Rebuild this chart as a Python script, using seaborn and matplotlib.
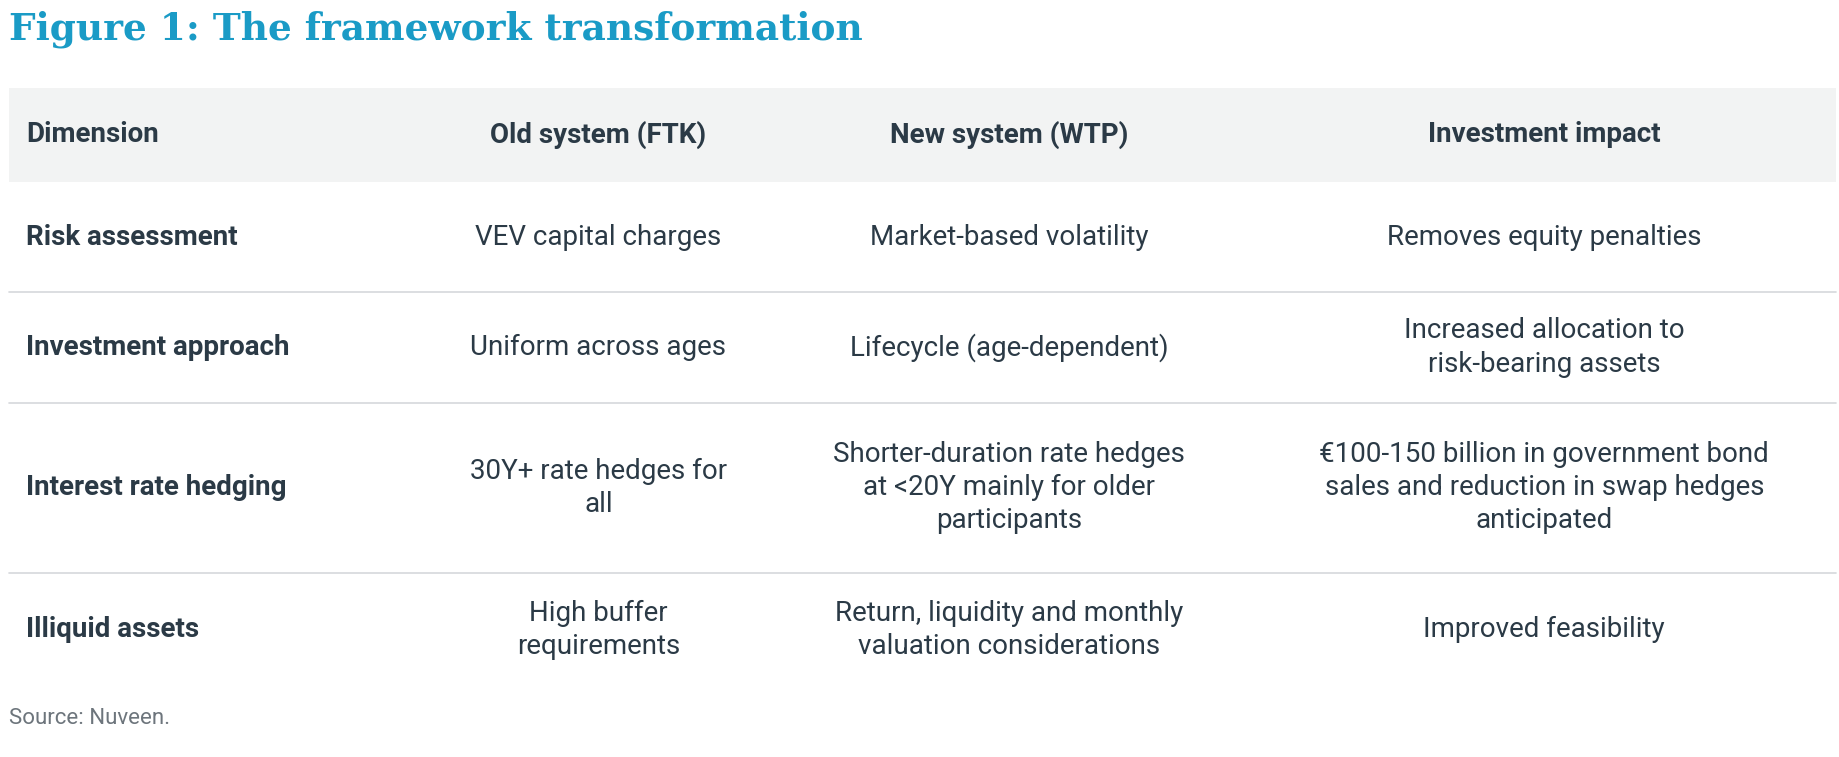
import matplotlib.pyplot as plt
import seaborn as sns

title = "Figure 1: The framework transformation"
columns = ["Dimension", "Old system (FTK)", "New system (WTP)", "Investment impact"]
dimension = ["Risk assessment", "Investment approach", "Interest rate hedging", "Illiquid assets"]
old_system = ["VEV capital charges", "Uniform across ages", "30Y+ rate hedges for\nall",
              "High buffer\nrequirements"]
new_system = ["Market-based volatility", "Lifecycle (age-dependent)",
              "Shorter-duration rate hedges\nat <20Y mainly for older\nparticipants",
              "Return, liquidity and monthly\nvaluation considerations"]
impact = ["Removes equity penalties", "Increased allocation to\nrisk-bearing assets",
          "€100-150 billion in government bond\nsales and reduction in swap hedges\nanticipated",
          "Improved feasibility"]
source = "Source: Nuveen."

sns.set_theme(style="white")
plt.rcParams['font.family'] = ['Liberation Sans Narrow', 'Roboto', 'DejaVu Sans']

ink = "#2b3a46"
fig = plt.figure(figsize=(18.4, 7.57), dpi=100)
ax = fig.add_axes([0, 0, 1, 1])
# layout in reference pixel units (1568 x 645)
ax.set_xlim(0, 1568)
ax.set_ylim(645, 0)
ax.axis("off")

ax.text(8, 25, title, fontsize=27, fontweight="bold", color="#1a9bc6",
        family=["DejaVu Serif"], va="center", ha="left")

row_edges = [75, 155, 249, 343, 488, 585]
ax.axhspan(row_edges[0], row_edges[1], xmin=8 / 1568, xmax=1565 / 1568, color="#f2f3f3", lw=0)
for y in row_edges[2:5]:
    ax.plot([8, 1565], [y, y], color="#d5d8db", lw=1.2)

col_x = [22, 510, 860, 1316]
col_ha = ["left", "center", "center", "center"]
hy = (row_edges[0] + row_edges[1]) / 2
for x, ha, name in zip(col_x, col_ha, columns):
    ax.text(x, hy, name, fontsize=20, fontweight="bold", color=ink, ha=ha, va="center")

for i, row in enumerate(zip(dimension, old_system, new_system, impact)):
    cy = (row_edges[i + 1] + row_edges[i + 2]) / 2
    for j, (x, ha, val) in enumerate(zip(col_x, col_ha, row)):
        ax.text(x, cy, val, fontsize=20, color=ink, ha=ha, va="center",
                fontweight="bold" if j == 0 else "normal", linespacing=1.3,
                multialignment="center")

ax.text(8, 612, source, fontsize=16, color="#6d757c", ha="left", va="center")

plt.savefig("out.png", dpi=100)
